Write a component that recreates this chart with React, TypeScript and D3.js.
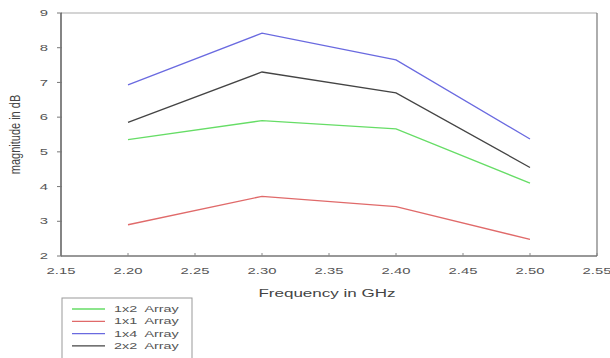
import React from "react";
import * as d3 from "d3";

const freqs = [2.2, 2.3, 2.4, 2.5];
const s1x2 = [5.35, 5.9, 5.66, 4.1];
const s1x1 = [2.9, 3.72, 3.42, 2.48];
const s1x4 = [6.93, 8.42, 7.65, 5.37];
const s2x2 = [5.85, 7.3, 6.7, 4.55];
const xTicks = [2.15, 2.2, 2.25, 2.3, 2.35, 2.4, 2.45, 2.5, 2.55];
const yTicks = [2, 3, 4, 5, 6, 7, 8, 9];
const seriesNames = ["1x2  Array", "1x1  Array", "1x4  Array", "2x2  Array"];
const seriesColors = ["#66dd66", "#e06a6a", "#6a6ae0", "#444444"];

export default function App() {
  const W = 610, H = 358;
  const left = 61, right = 597, top = 13, bottom = 256;
  const sx = 1.65;
  const x = d3.scaleLinear().domain([2.15, 2.55]).range([left, right]);
  const y = d3.scaleLinear().domain([2, 9]).range([bottom, top]);
  const line = d3.line<number>().x((_, i) => x(freqs[i])).y((d) => y(d));
  const series = [s1x2, s1x1, s1x4, s2x2];
  const font = "Arial, 'Liberation Sans', sans-serif";
  return (
    <svg width={W} height={H} style={{ position: "absolute", left: 0, top: 0, background: "#fff" }} fontFamily={font}>
      <rect x={0} y={0} width={W} height={H} fill="#fff" />
      {/* frame */}
      <line x1={left} x2={right} y1={top} y2={top} stroke="#aaa" strokeWidth={1.2} />
      <line x1={right} x2={right} y1={top} y2={bottom} stroke="#777" strokeWidth={1.2} />
      <line x1={left} x2={left} y1={top} y2={bottom} stroke="#333" strokeWidth={1.2} />
      <line x1={left} x2={right} y1={bottom} y2={bottom} stroke="#333" strokeWidth={1.2} />
      {yTicks.map((t) => (
        <g key={"y" + t}>
          <line x1={left - 4} x2={left + 1} y1={y(t)} y2={y(t)} stroke="#777" />
          <text transform={`translate(48,${y(t)}) scale(${sx},1)`} dy="0.35em" textAnchor="end" fontSize={9} fill="#555">{t}</text>
        </g>
      ))}
      {xTicks.map((t) => (
        <g key={"x" + t}>
          <line x1={x(t)} x2={x(t)} y1={bottom} y2={bottom - 3} stroke="#888" />
          <text transform={`translate(${x(t)},${bottom + 18}) scale(${sx},1)`} textAnchor="middle" fontSize={9} fill="#555">{t.toFixed(2)}</text>
        </g>
      ))}
      <text transform={`translate(${(left + right) / 2 - 2},${bottom + 41}) scale(1.55,1)`} textAnchor="middle" fontSize={11} fill="#444">Frequency in GHz</text>
      <text transform={`translate(20,${(top + bottom) / 2}) rotate(-90) scale(1,1.3)`} textAnchor="middle" fontSize={11} fill="#444">magnitude in dB</text>
      {series.map((s, i) => (
        <path key={"s" + i} d={line(s) || ""} fill="none" stroke={seriesColors[i]} strokeWidth={1.3} />
      ))}
      {/* legend */}
      <rect x={62} y={298} width={130} height={70} fill="#fff" stroke="#999" strokeWidth={1} />
      {seriesNames.map((n, i) => (
        <g key={"l" + i}>
          <line x1={72} x2={105} y1={309 + i * 12.3} y2={309 + i * 12.3} stroke={seriesColors[i]} strokeWidth={1.3} />
          <text transform={`translate(114,${309 + i * 12.3}) scale(1.6,1)`} dy="0.35em" fontSize={9} fill="#555" style={{ whiteSpace: "pre" }}>{n}</text>
        </g>
      ))}
    </svg>
  );
}
